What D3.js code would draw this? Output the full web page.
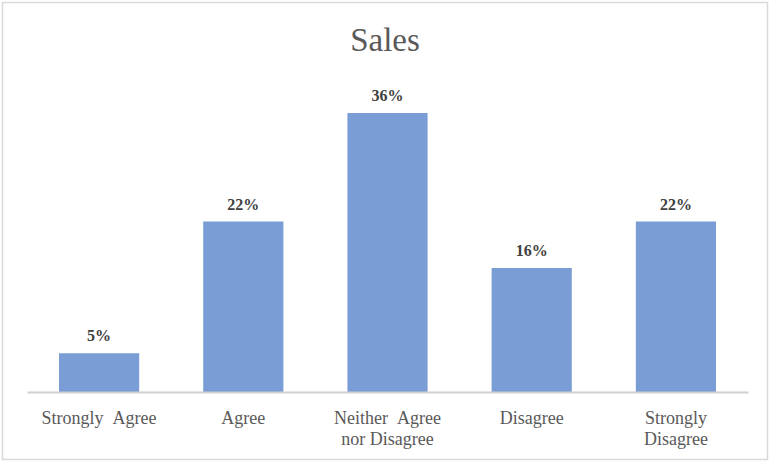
<!DOCTYPE html>
<html>
<head>
<meta charset="utf-8">
<script src="https://cdn.jsdelivr.net/npm/d3@7"></script>
<style>
  html, body { margin: 0; padding: 0; background: #fff; }
  svg { display: block; }
</style>
</head>
<body>
<script>
// Survey responses for "Sales"
const categories = [
  ["Strongly\u00a0\u00a0Agree"],
  ["Agree"],
  ["Neither\u00a0\u00a0Agree", "nor Disagree"],
  ["Disagree"],
  ["Strongly", "Disagree"]
];
const values = [5, 22, 36, 16, 22];
const valueLabels = ["5%", "22%", "36%", "16%", "22%"];

const W = 770, H = 462;
const margin = { left: 27, right: 22, top: 82, bottom: 70 };
const baseY = H - margin.bottom;
const serif = '"Liberation Serif", serif';

const svg = d3.select("body").append("svg")
  .attr("width", W).attr("height", H)
  .style("font-family", serif);

// chart frame
svg.append("rect")
  .attr("x", 2.5).attr("y", 2.5)
  .attr("width", W - 5).attr("height", H - 5)
  .attr("fill", "#fff")
  .attr("stroke", "#d9d9d9").attr("stroke-width", 1.5);

const x = d3.scaleBand()
  .domain(d3.range(categories.length))
  .range([margin.left, W - margin.right])
  .paddingInner(0.444)
  .paddingOuter(0.222);

const y = d3.scaleLinear()
  .domain([0, 40])
  .range([baseY, margin.top]);

// title
svg.append("text")
  .attr("x", W / 2).attr("y", 51)
  .attr("text-anchor", "middle")
  .attr("font-size", 33)
  .attr("fill", "#595959")
  .style("font-family", serif)
  .text("Sales");

// bars
svg.append("g").selectAll("rect")
  .data(values)
  .join("rect")
  .attr("x", (d, i) => x(i))
  .attr("y", d => y(d))
  .attr("width", x.bandwidth())
  .attr("height", d => baseY - y(d))
  .attr("fill", "#7a9dd5");

// value labels
svg.append("g").selectAll("text")
  .data(values)
  .join("text")
  .attr("x", (d, i) => x(i) + x.bandwidth() / 2)
  .attr("y", d => y(d) - 12)
  .attr("text-anchor", "middle")
  .attr("font-size", 16)
  .attr("font-weight", "bold")
  .attr("fill", "#404040")
  .style("font-family", serif)
  .text((d, i) => valueLabels[i]);

// category axis
const axis = d3.axisBottom(x).tickSize(0).tickFormat("");
const gAxis = svg.append("g")
  .attr("transform", `translate(0,${baseY})`)
  .call(axis);
gAxis.select(".domain")
  .attr("stroke", "#d0d0d0")
  .attr("stroke-width", 2);

const catG = svg.append("g").selectAll("text")
  .data(categories)
  .join("text")
  .attr("text-anchor", "middle")
  .attr("font-size", 18)
  .attr("fill", "#595959")
  .style("font-family", serif);
catG.each(function(lines, i) {
  const t = d3.select(this);
  lines.forEach((ln, j) => {
    t.append("tspan")
      .attr("x", x(i) + x.bandwidth() / 2)
      .attr("y", baseY + 32 + j * 21)
      .text(ln);
  });
});
</script>
</body>
</html>
